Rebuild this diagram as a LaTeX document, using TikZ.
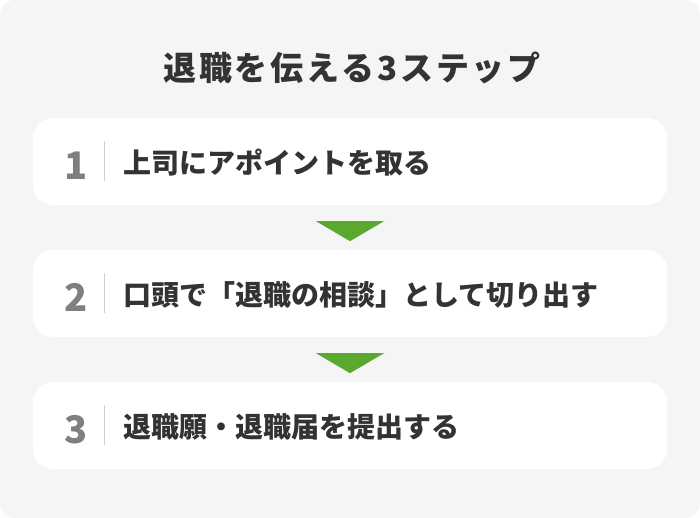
\documentclass[tikz,border=0pt]{standalone}
\usepackage{fontspec}
\setmainfont{Noto Sans CJK JP}
\newfontfamily\titlefont{Noto Sans CJK JP}[LetterSpace=8.6]
\usetikzlibrary{calc,positioning}
\definecolor{bggray}{HTML}{F5F5F5}
\definecolor{inkgray}{HTML}{333333}
\definecolor{numgray}{HTML}{7F7F7F}
\definecolor{sepgray}{HTML}{CFCFCF}
\definecolor{stepgreen}{HTML}{5AA92E}
\tikzset{
    stepbox/.style={
           rectangle,
           rounded corners=20pt,
           fill=white,
           minimum width=634pt,
           minimum height=87pt,
           inner sep=0pt},
    num/.style={
           text=numgray,
           inner sep=0pt,
           font=\fontsize{38}{38}\selectfont\bfseries},
    steptext/.style={
           text=inkgray,
           anchor=west,
           inner sep=0pt,
           font=\fontsize{28}{28}\selectfont\bfseries},
    sep/.style={
           draw=sepgray,
           line width=1.2pt},
    pfeil/.style={
           fill=stepgreen}
}
\begin{document}
\begin{tikzpicture}[x=1pt, y=1pt]
        \useasboundingbox (0,0) rectangle (700,518);
        \fill[white] (0,0) rectangle (700,518);
        \fill[bggray, rounded corners=15pt] (0,0) rectangle (700,518);

        \node[text=inkgray, font=\titlefont\fontsize{33}{33}\selectfont\bfseries] (title) at (352,450) {退職を伝える3ステップ};

        \node[stepbox] (s1) at (350,356.5) {};
        \node[stepbox] (s2) at (350,224.5) {};
        \node[stepbox] (s3) at (350,92.5) {};

        \node[num] (n1) at ($(s1.west)+(43,-4)$) {1};
        \node[num] (n2) at ($(s2.west)+(43,-4)$) {2};
        \node[num] (n3) at ($(s3.west)+(43,-4)$) {3};

        \coordinate (l1) at ($(s1.west)+(71.5,0)$);
        \coordinate (l2) at ($(s2.west)+(71.5,0)$);
        \coordinate (l3) at ($(s3.west)+(71.5,0)$);
        \draw[sep] ($(l1)+(0,20)$) -- ($(l1)+(0,-20)$);
        \draw[sep] ($(l2)+(0,20)$) -- ($(l2)+(0,-20)$);
        \draw[sep] ($(l3)+(0,20)$) -- ($(l3)+(0,-20)$);

        \node[steptext] (t1) at ($(s1.west)+(90,-1)$) {上司にアポイントを取る};
        \node[steptext] (t2) at ($(s2.west)+(90,-1)$) {口頭で「退職の相談」として切り出す};
        \node[steptext] (t3) at ($(s3.west)+(90,-1)$) {退職願・退職届を提出する};

        \fill[pfeil] ($(s1.south)+(-34,-16)$) -- ($(s1.south)+(34,-16)$) -- ($(s1.south)+(0,-36)$) -- cycle;
        \fill[pfeil] ($(s2.south)+(-34,-16)$) -- ($(s2.south)+(34,-16)$) -- ($(s2.south)+(0,-36)$) -- cycle;
\end{tikzpicture}
\end{document}
